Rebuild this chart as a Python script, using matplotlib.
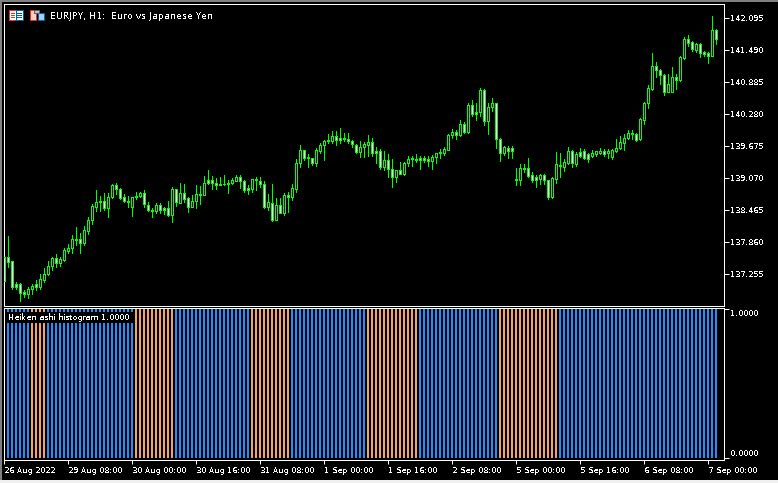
import matplotlib
matplotlib.use('Agg')
import matplotlib.pyplot as plt
from matplotlib.patches import Rectangle
from matplotlib.transforms import ScaledTranslation

W, H = 778, 483
GREEN = '#00FF00'
BLUE = '#1E90FF'
ORANGE = '#F4A460'

plt.rcParams['font.family'] = 'DejaVu Sans'
plt.rcParams['font.size'] = 6.1
plt.rcParams['text.antialiased'] = False
plt.rcParams['text.hinting'] = 'native'
plt.rcParams['text.hinting_factor'] = 1

price_ticks = [142.095, 141.490, 140.885, 140.280, 139.675, 139.070, 138.465, 137.860, 137.255]
price_labels = ['142.095', '141.490', '140.885', '140.280', '139.675', '139.070', '138.465', '137.860', '137.255']
hist_ticks = [1.0, 0.0]
hist_labels = ['1.0000', '0.0000']
time_bars = [0, 16, 32, 48, 64, 80, 96, 112, 128, 144, 160, 176]
time_labels = ['26 Aug 2022', '29 Aug 08:00', '30 Aug 00:00', '30 Aug 16:00', '31 Aug 08:00', '1 Sep 00:00',
               '1 Sep 16:00', '2 Sep 08:00', '5 Sep 00:00', '5 Sep 16:00', '6 Sep 08:00', '7 Sep 00:00']

# EURJPY H1 candles
opens = [137.57, 137.57, 137.49, 137.06, 137.06, 136.91, 136.88, 136.96, 137.07, 137.01, 137.14, 137.25, 137.41,
         137.55, 137.45, 137.52, 137.69, 137.75, 137.91, 137.91, 137.84, 138.07, 138.28, 138.52, 138.64, 138.64,
         138.49, 138.70, 138.93, 138.85, 138.70, 138.64, 138.52, 138.72, 138.72, 138.79, 138.56, 138.47, 138.45,
         138.55, 138.49, 138.49, 138.36, 138.85, 138.60, 138.79, 138.68, 138.52, 138.64, 138.77, 138.74, 139.02,
         139.02, 138.98, 138.96, 138.96, 138.95, 138.98, 139.01, 139.08, 139.00, 138.87, 138.86, 139.05,
         139.01, 138.96, 138.52, 138.60, 138.28, 138.55, 138.41, 138.75, 138.70, 138.86, 139.35, 139.59, 139.46,
         139.44, 139.34, 139.58, 139.68, 139.78, 139.76, 139.85, 139.83, 139.83, 139.81, 139.76, 139.69, 139.56,
         139.66, 139.69, 139.74, 139.57, 139.57, 139.27, 139.40, 139.23, 139.08, 139.21, 139.14, 139.35, 139.44,
         139.42, 139.44, 139.44, 139.42, 139.39, 139.46, 139.53, 139.54, 139.60, 139.87, 139.93, 139.88, 140.08,
         139.93, 140.44, 140.31, 140.31, 140.72, 140.14, 140.40, 140.48, 139.80, 139.54, 139.64,
         139.63, 139.05, 139.03, 139.25, 139.25, 139.12, 139.08, 139.04, 139.12, 139.02, 138.71, 139.05, 139.32,
         139.28, 139.35, 139.57, 139.33, 139.55, 139.57, 139.51, 139.48, 139.52, 139.53, 139.57, 139.53, 139.46,
         139.57, 139.63, 139.73, 139.82, 139.91, 139.90, 139.80, 140.17, 140.48, 140.75, 141.19, 141.10, 141.01,
         140.70, 140.70, 140.97, 140.91, 141.33, 141.69, 141.63, 141.48, 141.59, 141.45, 141.43, 141.38, 141.86]
closes = [137.11, 137.48, 137.01, 137.01, 136.90, 136.88, 136.97, 137.02, 137.01, 137.16, 137.26, 137.41, 137.55,
          137.45, 137.53, 137.70, 137.75, 137.91, 137.90, 137.84, 138.08, 138.28, 138.54, 138.62, 138.62, 138.49,
          138.70, 138.93, 138.85, 138.69, 138.64, 138.62, 138.70, 138.70, 138.79, 138.57, 138.46, 138.45, 138.55,
          138.47, 138.47, 138.36, 138.85, 138.62, 138.79, 138.67, 138.52, 138.64, 138.77, 138.74, 138.98, 138.97,
          138.98, 138.94, 138.93, 138.95, 138.98, 139.02, 139.08, 139.00, 138.83, 138.83, 139.04, 139.03,
          138.96, 138.52, 138.62, 138.28, 138.55, 138.41, 138.75, 138.70, 138.87, 139.35, 139.59, 139.45, 139.44,
          139.34, 139.59, 139.68, 139.76, 139.76, 139.85, 139.79, 139.79, 139.81, 139.76, 139.70, 139.56, 139.66,
          139.70, 139.74, 139.54, 139.54, 139.28, 139.41, 139.23, 139.09, 139.21, 139.15, 139.35, 139.43, 139.42,
          139.40, 139.41, 139.41, 139.39, 139.47, 139.53, 139.56, 139.61, 139.87, 139.93, 139.88, 140.08, 139.94,
          140.44, 140.27, 140.28, 140.72, 140.14, 140.40, 140.48, 139.80, 139.54, 139.65, 139.58,
          139.58, 139.03, 139.25, 139.24, 139.11, 139.03, 139.03, 139.12, 139.02, 138.70, 139.06, 139.33, 139.29,
          139.36, 139.57, 139.34, 139.52, 139.49, 139.44, 139.43, 139.53, 139.57, 139.57, 139.52, 139.57, 139.59,
          139.64, 139.74, 139.83, 139.91, 139.89, 139.79, 140.18, 140.48, 140.77, 141.19, 141.10, 141.01, 140.70,
          140.84, 140.97, 140.91, 141.35, 141.69, 141.62, 141.51, 141.60, 141.43, 141.41, 141.38, 141.86, 141.70]
highs = [137.58, 137.97, 137.49, 137.10, 137.09, 136.95, 137.00, 137.06, 137.14, 137.26, 137.36, 137.49, 137.58,
         137.63, 137.58, 137.74, 137.82, 137.99, 138.13, 138.02, 138.15, 138.33, 138.57, 138.84, 138.72, 138.79,
         138.79, 138.95, 138.97, 138.88, 138.76, 138.72, 138.71, 138.80, 138.81, 138.84, 138.62, 138.49, 138.59,
         138.60, 138.52, 138.63, 138.89, 138.86, 138.98, 138.95, 138.71, 138.74, 138.93, 138.91, 139.10, 139.22,
         139.10, 139.07, 139.09, 139.12, 139.03, 139.07, 139.12, 139.12, 139.03, 138.93, 139.05, 139.09,
         139.09, 139.00, 138.76, 138.95, 138.69, 138.69, 138.79, 138.80, 138.95, 139.42, 139.69, 139.59, 139.52,
         139.44, 139.63, 139.72, 139.78, 139.90, 139.95, 139.95, 140.01, 139.92, 139.92, 139.78, 139.71, 139.76,
         139.75, 139.88, 139.82, 139.65, 139.61, 139.58, 139.51, 139.42, 139.21, 139.37, 139.37, 139.48, 139.48,
         139.51, 139.48, 139.48, 139.48, 139.50, 139.54, 139.61, 139.65, 139.90, 139.99, 139.97, 140.16, 140.13,
         140.49, 140.54, 140.49, 140.77, 140.75, 140.48, 140.58, 140.49, 139.82, 139.67, 139.67,
         139.67, 139.25, 139.33, 139.33, 139.44, 139.18, 139.12, 139.14, 139.14, 139.03, 139.09, 139.56, 139.53,
         139.42, 139.65, 139.59, 139.56, 139.63, 139.61, 139.54, 139.59, 139.58, 139.63, 139.61, 139.61, 139.61,
         139.80, 139.86, 139.89, 139.97, 139.97, 139.91, 140.20, 140.50, 140.83, 141.42, 141.26, 141.13, 141.03,
         141.03, 141.16, 141.04, 141.38, 141.73, 141.77, 141.66, 141.62, 141.62, 141.47, 141.45, 142.13, 141.89]
lows = [137.11, 137.39, 136.97, 136.96, 136.75, 136.82, 136.80, 136.87, 136.95, 136.97, 137.10, 137.23, 137.33,
        137.39, 137.41, 137.50, 137.64, 137.65, 137.79, 137.65, 137.79, 138.01, 138.20, 138.45, 138.45, 138.46,
        138.33, 138.69, 138.76, 138.67, 138.61, 138.52, 138.35, 138.66, 138.70, 138.52, 138.44, 138.32, 138.40,
        138.41, 138.38, 138.35, 138.24, 138.54, 138.60, 138.62, 138.43, 138.52, 138.50, 138.57, 138.74, 138.96,
        138.86, 138.86, 138.93, 138.94, 138.79, 138.95, 139.00, 138.88, 138.80, 138.77, 138.80, 138.83,
        138.90, 138.49, 138.46, 138.25, 138.28, 138.40, 138.37, 138.42, 138.65, 138.80, 139.28, 139.41, 139.28,
        139.32, 139.30, 139.54, 139.41, 139.73, 139.72, 139.68, 139.73, 139.76, 139.72, 139.66, 139.54, 139.46,
        139.46, 139.48, 139.49, 139.34, 139.24, 139.22, 139.08, 138.89, 138.99, 139.14, 139.12, 139.30, 139.30,
        139.36, 139.23, 139.36, 139.30, 139.23, 139.34, 139.44, 139.50, 139.59, 139.83, 139.81, 139.85, 139.92,
        139.91, 140.24, 140.16, 140.24, 140.07, 139.90, 140.33, 139.63, 139.39, 139.50, 139.44,
        139.44, 138.93, 138.93, 139.17, 139.09, 138.99, 138.90, 138.96, 138.95, 138.67, 138.69, 138.98, 139.09,
        139.20, 139.33, 139.28, 139.30, 139.47, 139.42, 139.37, 139.46, 139.49, 139.52, 139.49, 139.45, 139.42,
        139.56, 139.61, 139.59, 139.80, 139.80, 139.77, 139.79, 140.09, 140.39, 140.73, 140.98, 140.84, 140.63,
        140.69, 140.69, 140.75, 140.90, 141.31, 141.56, 141.47, 141.45, 141.35, 141.38, 141.24, 141.37, 141.60]

# histogram: every bar is 1.0, colour state changes in these bar ranges
hist_values = [1.0] * len(opens)
orange_start = [7, 33, 62, 91, 124]
orange_end = [10, 42, 71, 103, 138]

bars = list(range(len(opens)))
hist_colors = [BLUE] * len(bars)
for s, e in zip(orange_start, orange_end):
    for i in range(s, e + 1):
        hist_colors[i] = ORANGE

fig = plt.figure(figsize=(W / 100, H / 100), dpi=100, facecolor='black')


def pixel_axes(x0, y0, x1, y1):
    return fig.add_axes([x0 / W, 1 - y1 / H, (x1 - x0) / W, (y1 - y0) / H], facecolor='black')


ax = pixel_axes(3.5, 3.5, 723.5, 305.5)
ax2 = pixel_axes(3.5, 307.5, 723.5, 459.5)

# main window
ax.vlines(bars, lows, highs, colors=GREEN, linewidth=0.5, antialiased=False, zorder=2)
for i in bars:
    top = max(opens[i], closes[i])
    bot = min(opens[i], closes[i])
    face = 'white' if closes[i] < opens[i] else 'black'
    ax.bar(i, top - bot, bottom=bot, width=0.5, facecolor=face, edgecolor=GREEN, linewidth=0.5,
           antialiased=False, zorder=3)
ax.set_xlim(0, 180)
ax.set_ylim(136.656, 142.363)
ax.set_xticks([])
ax.yaxis.tick_right()
ax.set_yticks(price_ticks)
ax.set_yticklabels(price_labels)

# indicator window
ax2.bar(bars, hist_values, width=0.5, color=hist_colors, linewidth=0, antialiased=False)
ax2.set_xlim(0, 180)
ax2.set_ylim(-0.0067, 1.0067)
ax2.yaxis.tick_right()
ax2.set_yticks(hist_ticks)
ax2.set_yticklabels(hist_labels)
ax2.get_yticklabels()[0].set_va('top')
ax2.get_yticklabels()[1].set_va('bottom')
ax2.set_xticks(time_bars)
ax2.set_xticklabels(time_labels, ha='left')
for lab in ax2.get_xticklabels():
    lab.set_transform(lab.get_transform() + ScaledTranslation(-2 / 100, 0, fig.dpi_scale_trans))

for a in (ax, ax2):
    a.tick_params(axis='y', colors='white', length=3.6, width=0.72, pad=0.8)
    a.tick_params(axis='x', colors='white', length=2.9, width=0.72, pad=1.5)
    for s in a.spines.values():
        s.set_color('white')
        s.set_linewidth(0.72)

# window chrome, legend box and the two toolbar icons, in pixels
over = fig.add_axes([0, 0, 1, 1], facecolor='none')
over.set_xlim(0, W)
over.set_ylim(H, 0)
over.axis('off')


def box(x, y, w, h, color, edge='none'):
    over.add_patch(Rectangle((x, y), w, h, facecolor=color, edgecolor=edge, linewidth=0.72, antialiased=False))


box(0, 0, W, 2, '#808080')
box(0, 0, 2, H, '#808080')
box(0, 480, W, 3, '#F0F0F0')

box(7, 312, 127, 11, 'black')
over.text(8, 317.5, 'Heiken ashi histogram 1.0000', color='white', va='center', ha='left')
over.text(50, 16, 'EURJPY, H1:  Euro vs Japanese Yen', color='white', va='center', ha='left', fontsize=6.4)

box(9, 10, 7, 10, 'white', '#E53020')
box(16, 10, 7, 10, 'white', '#0060B0')
for yy in (13, 15, 17):
    box(11, yy, 4, 1, '#E53020')
    box(17, yy, 5, 1, '#0060B0')
box(30, 10, 6, 10, '#FFD0C8', '#E53020')
box(38, 13, 6, 7, '#A0D0F0', '#0060B0')
box(34, 10, 5, 3, '#C0C0C0', '#606060')

fig.savefig('out.png', dpi=100, facecolor='black')
